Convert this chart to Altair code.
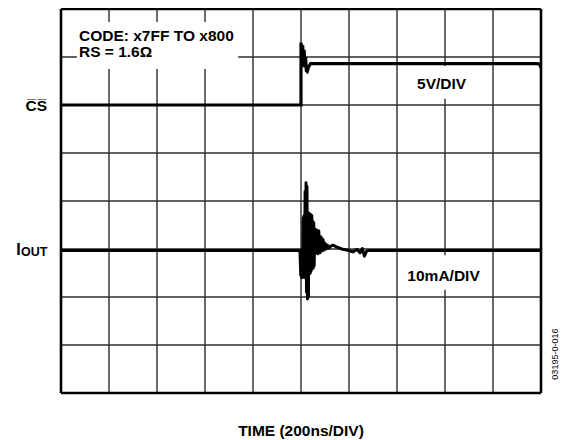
import altair as alt
import pandas as pd

FONT = "Liberation Sans"

# time in divisions (200 ns / div), value in vertical divisions (0 = bottom)
cs_t = [0.0, 5.0, 5.0, 5.02, 5.035, 5.05, 5.065, 5.08, 5.095, 5.11, 5.13, 5.16, 5.20, 9.92, 9.97, 10.0]
cs_v = [6.0, 6.0, 7.30, 6.85, 7.25, 6.80, 7.15, 6.78, 7.0, 6.72, 6.70, 6.80, 6.86, 6.86, 6.85, 6.78]

iout_t = [0.0, 4.96, 4.98, 4.995, 5.005, 5.015, 5.025, 5.035, 5.045, 5.055, 5.065, 5.075,
          5.085, 5.095, 5.105, 5.115, 5.125, 5.135, 5.145, 5.155, 5.165, 5.175, 5.185,
          5.195, 5.205, 5.215, 5.225, 5.235, 5.245, 5.255, 5.265, 5.275, 5.285, 5.30,
          5.32, 5.345, 5.37, 5.395, 5.42, 5.44, 5.46, 5.48, 5.50, 5.52, 5.55, 5.58,
          5.62, 5.67, 5.75, 5.85, 5.95, 6.08, 6.17, 6.23, 6.28, 6.32, 6.37, 6.40, 10.0]
iout_v = [2.97, 2.97, 2.93, 2.45, 2.90, 2.40, 3.00, 2.42, 3.65, 2.45, 3.70, 2.40,
          4.20, 2.40, 4.38, 2.10, 4.30, 1.96, 3.75, 2.00, 3.75, 2.48, 3.72,
          2.50, 3.72, 2.55, 3.70, 2.60, 3.58, 2.60, 3.55, 2.65, 3.42, 2.92,
          3.40, 2.90, 3.38, 2.92, 3.25, 2.96, 3.20, 2.98, 3.12, 3.00, 3.08, 3.02,
          3.06, 3.08, 3.04, 3.00, 2.98, 2.94, 2.99, 2.92, 3.01, 2.85, 2.96, 2.97, 2.97]

grid_x = list(range(0, 11))
grid_y = list(range(0, 9))

NS_PER_DIV = 200

xs = alt.Scale(domain=[0, 10 * NS_PER_DIV], nice=False, zero=False)
ys = alt.Scale(domain=[0, 8], nice=False, zero=False)


def X(field="t"):
    return alt.X(f"{field}:Q", scale=xs, axis=None)


def Y(field="v"):
    return alt.Y(f"{field}:Q", scale=ys, axis=None)


cs_df = pd.DataFrame({"t": [t * NS_PER_DIV for t in cs_t], "v": cs_v, "i": range(len(cs_t))})
iout_df = pd.DataFrame({"t": [t * NS_PER_DIV for t in iout_t], "v": iout_v, "i": range(len(iout_t))})

gx = alt.Chart(pd.DataFrame({"t": [g * NS_PER_DIV for g in grid_x[1:-1]]})).mark_rule(
    color="#2b2b2b", strokeWidth=1.4).encode(x=X())
gy = alt.Chart(pd.DataFrame({"v": grid_y[1:-1]})).mark_rule(
    color="#2b2b2b", strokeWidth=1.4).encode(y=Y())

# white label boxes that interrupt the grid
boxes = pd.DataFrame({
    "t": [66, 1454, 1412],
    "t2": [738, 1712, 1775],
    "v": [6.75, 6.13, 2.15],
    "v2": [7.73, 6.81, 2.87],
})
box = alt.Chart(boxes).mark_rect(color="white").encode(
    x=X(), x2="t2", y=Y(), y2="v2")

# outer frame
bx = alt.Chart(pd.DataFrame({"t": [grid_x[0] * NS_PER_DIV, grid_x[-1] * NS_PER_DIV]})).mark_rule(
    color="black", strokeWidth=2.6).encode(x=X())
by = alt.Chart(pd.DataFrame({"v": [grid_y[0], grid_y[-1]]})).mark_rule(
    color="black", strokeWidth=2.6).encode(y=Y())

cs_line = alt.Chart(cs_df).mark_line(color="black", strokeWidth=3.2, strokeJoin="miter").encode(
    x=X(), y=Y(), order="i:Q")
iout_line = alt.Chart(iout_df).mark_line(color="black", strokeWidth=3, strokeJoin="round").encode(
    x=X(), y=Y(), order="i:Q")

left_txt = pd.DataFrame({
    "t": [75, 75],
    "v": [7.33, 6.99],
    "label": ["CODE: x7FF TO x800", "RS = 1.6Ω"],
})
center_txt = pd.DataFrame({
    "t": [1586, 1594, 1000],
    "v": [6.33, 2.33, -0.896],
    "label": ["5V/DIV", "10mA/DIV", "TIME (200ns/DIV)"],
})
right_txt = pd.DataFrame({
    "t": [-58],
    "v": [5.875],
    "label": ["C\u0305S\u0305"],
})

t_left = alt.Chart(left_txt).mark_text(
    align="left", baseline="alphabetic", font=FONT, fontWeight="bold", fontSize=15.5, color="black"
).encode(x=X(), y=Y(), text="label:N")
t_center = alt.Chart(center_txt).mark_text(
    align="center", baseline="alphabetic", font=FONT, fontWeight="bold", fontSize=15.5, color="black"
).encode(x=X(), y=Y(), text="label:N")
t_right = alt.Chart(right_txt).mark_text(
    align="right", baseline="alphabetic", font=FONT, fontWeight="bold", fontSize=15.5, color="black"
).encode(x=X(), y=Y(), text="label:N")

i_main = alt.Chart(pd.DataFrame({"t": [-186], "v": [2.875], "label": ["I"]})).mark_text(
    align="left", baseline="alphabetic", font=FONT, fontWeight="bold", fontSize=16, color="black"
).encode(x=X(), y=Y(), text="label:N")
i_sub = alt.Chart(pd.DataFrame({"t": [-57], "v": [2.85], "label": ["OUT"]})).mark_text(
    align="right", baseline="alphabetic", font=FONT, fontWeight="bold", fontSize=12.5, color="black"
).encode(x=X(), y=Y(), text="label:N")

code = alt.Chart(pd.DataFrame({"t": [2060], "v": [0.81], "label": ["03195-0-016"]})).mark_text(
    align="center", baseline="middle", angle=270, font=FONT, fontSize=9, color="black"
).encode(x=X(), y=Y(), text="label:N")

chart = alt.layer(
    gx, gy, box, bx, by, cs_line, iout_line, t_left, t_center, t_right, i_main, i_sub, code
).properties(
    width=480, height=384,
    autosize=alt.AutoSizeParams(type="none"),
    padding={"left": 53, "top": 1, "right": 27, "bottom": 47},
).configure_view(strokeWidth=0).configure(background="white")

chart.save("out.html", embed_options={"renderer": "svg", "actions": False})
